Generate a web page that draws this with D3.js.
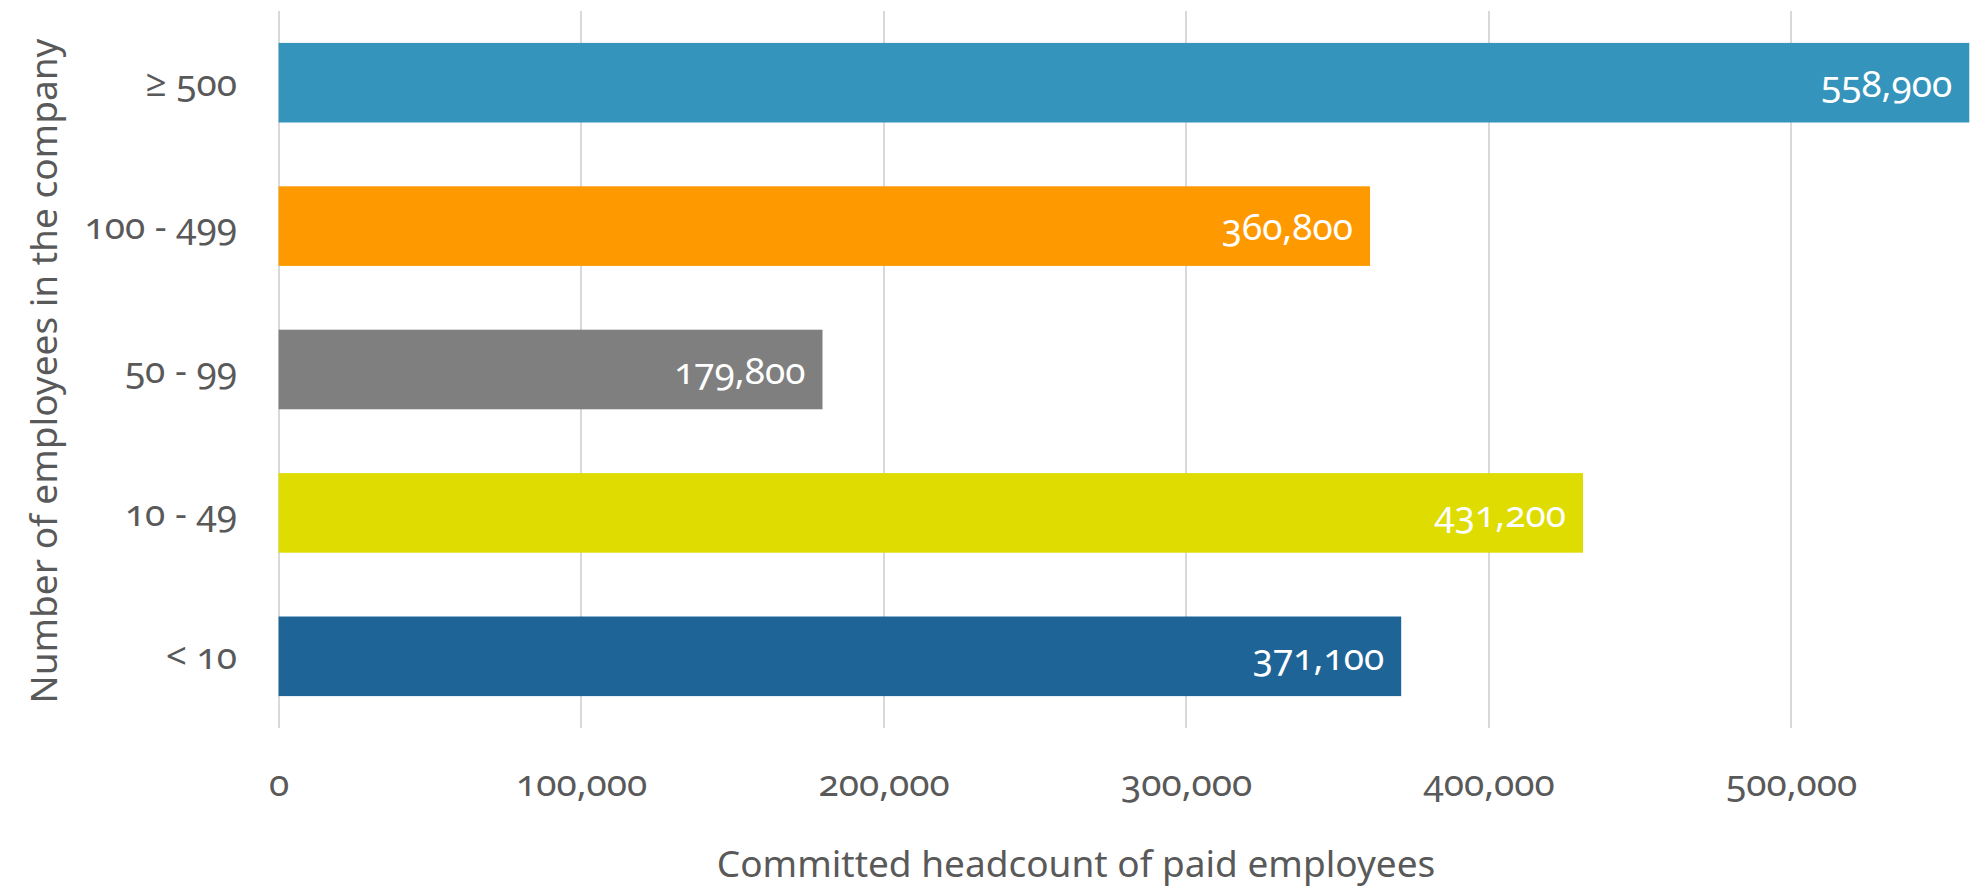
<!DOCTYPE html>
<html lang="en">
    <head>
        <meta charset="utf-8">
        <title>Committed headcount by company size</title>
        <script src="https://d3js.org/d3.v7.min.js" charset="utf-8"></script>
        <style>
        body {
            margin: 0;
            background: #fff;
            font-family: "Noto Sans", "Open Sans", sans-serif;
            font-variant-numeric: oldstyle-nums;
        }
        .grid line {
            stroke: #d9d9d9;
            stroke-width: 2px;
            shape-rendering: crispEdges;
        }
        .label {
            fill: #595959;
            font-size: 37px;
        }
        .title {
            fill: #595959;
            font-size: 37px;
        }
        .value {
            fill: #fff;
            font-size: 37px;
        }
        </style>
    </head>
    <body>
        <div id="vis-container"></div>
        <script type="text/javascript">

        // values, top bar first
        var categories = ["≥ 500", "100 - 499", "50 - 99", "10 - 49", "< 10"];
        var headcount  = [558900, 360800, 179800, 431200, 371100];
        var barColors  = ["#3594bc", "#ff9900", "#7f7f7f", "#dedc00", "#1e6496"];
        var xTicks     = [0, 100000, 200000, 300000, 400000, 500000];

        var data = categories.map(function(c, i) {
            return { name: c, value: headcount[i], color: barColors[i] };
        });

        var width = 1972, height = 893;
        var fmt = d3.format(",");

        var svg = d3.select("#vis-container").append("svg")
            .attr("width", width)
            .attr("height", height);

        var xScale = d3.scaleLinear()
            .domain([0, 560000])
            .range([278.6, 278.6 + 302.5 * 5.6]);

        var yScale = d3.scaleBand()
            .domain(categories)
            .range([11, 728])
            .paddingInner(0.445)
            .paddingOuter(0.2225);

        // vertical gridlines (behind the bars)
        svg.append("g")
            .attr("class", "grid")
            .selectAll("line")
            .data(xTicks)
            .enter()
            .append("line")
            .attr("x1", function(d) { return Math.round(xScale(d)); })
            .attr("x2", function(d) { return Math.round(xScale(d)); })
            .attr("y1", 11)
            .attr("y2", 728);

        // bars
        svg.selectAll(".bar")
            .data(data)
            .enter()
            .append("rect")
            .attr("class", "bar")
            .attr("x", xScale(0))
            .attr("y", function(d) { return yScale(d.name); })
            .attr("width", function(d) { return xScale(d.value) - xScale(0); })
            .attr("height", yScale.bandwidth())
            .style("fill", function(d) { return d.color; });

        // value labels inside the bar end
        svg.selectAll(".value")
            .data(data)
            .enter()
            .append("text")
            .attr("class", "value")
            .attr("x", function(d) { return xScale(d.value) - 17; })
            .attr("y", function(d) { return yScale(d.name) + yScale.bandwidth() / 2 + 14; })
            .style("text-anchor", "end")
            .text(function(d) { return fmt(d.value); });

        // x tick labels
        var xAxis = d3.axisBottom(xScale)
            .tickValues(xTicks)
            .tickFormat(fmt)
            .tickSize(0)
            .tickPadding(0);

        var gx = svg.append("g")
            .attr("transform", "translate(0,770)")
            .call(xAxis)
            .attr("font-family", null)
            .attr("font-size", null);
        gx.select(".domain").remove();
        gx.selectAll("text")
            .attr("class", "label")
            .attr("dy", null)
            .attr("y", 26);

        // category labels
        var yAxis = d3.axisLeft(yScale)
            .tickSize(0)
            .tickPadding(0);

        var gy = svg.append("g")
            .attr("transform", "translate(237,0)")
            .call(yAxis)
            .attr("font-family", null)
            .attr("font-size", null);
        gy.select(".domain").remove();
        gy.selectAll("text")
            .attr("class", "label")
            .attr("dy", null)
            .attr("y", 13);

        // axis titles
        svg.append("text")
            .attr("class", "title")
            .attr("x", 1076)
            .attr("y", 877)
            .style("text-anchor", "middle")
            .text("Committed headcount of paid employees");

        svg.append("text")
            .attr("class", "title")
            .attr("transform", "translate(57,371) rotate(-90)")
            .style("text-anchor", "middle")
            .text("Number of employees in the company");
        </script>
    </body>
</html>
